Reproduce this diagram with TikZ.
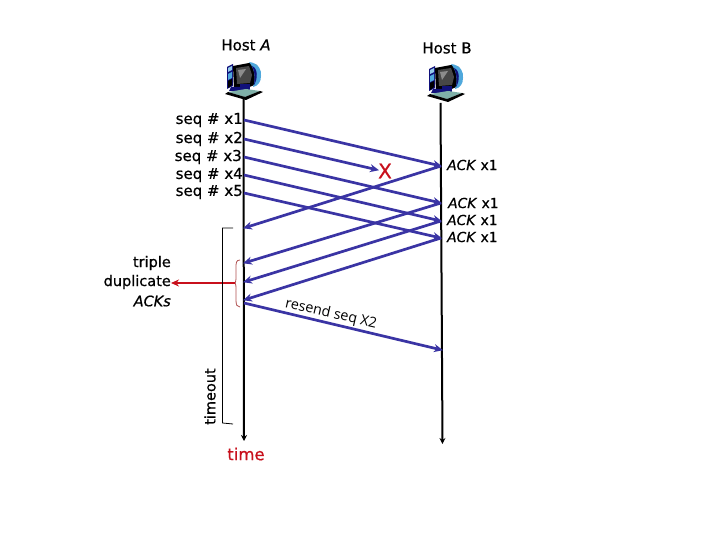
\documentclass[tikz,border=0pt]{standalone}
\usepackage{fontspec}
\setmainfont[FakeBold=0.6,ItalicFeatures={FakeBold=0.6}]{DejaVu Sans}
\newfontfamily\thinfont{Open Sans}
\usetikzlibrary{arrows.meta,calc}
\definecolor{pktblue}{HTML}{3A34A4}
\definecolor{tred}{HTML}{C8101C}
\definecolor{bracered}{HTML}{B05050}
\definecolor{monblue}{HTML}{4FA8DC}
\definecolor{darkblue}{HTML}{10107A}
\definecolor{keyteal}{HTML}{7FB0A8}
\tikzset{
  lbl/.style={inner sep=0pt,font=\fontsize{14.5}{15}\selectfont,text=black},
  seqlbl/.style={lbl,font=\fontsize{15}{15}\selectfont,anchor=east},
  acklbl/.style={lbl,font=\fontsize{13.8}{15}\selectfont,anchor=west},
  hostlbl/.style={lbl,font=\fontsize{15}{15}\selectfont,anchor=center},
  pkt/.style={draw=pktblue,line width=2.7pt,-{Stealth[length=9pt,width=8pt]},shorten >=-1pt},
  life/.style={draw=black,line width=2pt},
  thinb/.style={draw=black,line width=0.8pt},
  pc/.pic={
    % tower
    \fill[darkblue] (-16,-4) -- (-10,-7) -- (-10,15) -- (-16,18) -- cycle;
    \fill[monblue!60!white] (-15,-3) -- (-11,-5) -- (-11,-1) -- (-15,1) -- cycle;
    \fill[monblue] (-15,3) -- (-11,1) -- (-11,7) -- (-15,9) -- cycle;
    \fill[black] (-15,10) -- (-11,8) -- (-11,14) -- (-15,17) -- cycle;
    % monitor
    \fill[black] (-10,-5) -- (6,-8) -- (14,-6) -- (14,13) -- (4,17) -- (-9,17) -- cycle;
    \fill[monblue] (6,-9) .. controls (16,-8) and (19,0) .. (18,5) .. controls (18,11) and (15,15) .. (10,16) .. controls (13,8) and (12,-2) .. (6,-9) -- cycle;
    \fill[darkblue] (9,-5) .. controls (15,-3) and (15,8) .. (11,14) .. controls (12,6) and (12,1) .. (9,-5) -- cycle;
    \fill[black!72] (-7,-3) -- (6,-5) -- (9,4) -- (7,12) -- (-6,13) -- cycle;
    \fill[black!45] (-5,-1) -- (3,-2) -- (-3,7) -- cycle;
    % stand and base
    \fill[darkblue] (-3,13) rectangle (7,19);
    \fill[darkblue] (-12,16) -- (-3,16) -- (-3,20) -- (-14,20) -- cycle;
    \fill[keyteal] (-15,21) -- (3,18) -- (17,20) -- (2,26) -- cycle;
    \fill[black] (-18,23) -- (-15,21) -- (2,26) -- (17,20) -- (20,21) -- (3,29) -- cycle;
  }
}
\begin{document}
\begin{tikzpicture}[x=1pt,y=-1pt]
\useasboundingbox (0,0) rectangle (720,540);
\fill[white] (0,0) rectangle (720,540);

\node[hostlbl] (hosta) at (246,45) {Host \textit{A}};
\node[hostlbl] (hostb) at (447,48) {Host B};
\pic at (243,71) {pc};
\pic at (445,73) {pc};

% lifelines
\coordinate (a0) at (243.5,97);
\coordinate (aend) at (244,441);
\coordinate (b0) at (440.5,103);
\coordinate (bend) at (442.5,444);
\draw[life,-{Stealth[length=6pt,width=6pt]}] (a0) -- (aend);
\draw[life,-{Stealth[length=6pt,width=6pt]}] (b0) -- (bend);

% send points
\coordinate (s1) at (244,120);
\coordinate (s2) at (244,139);
\coordinate (s3) at (244,157);
\coordinate (s4) at (244,175);
\coordinate (s5) at (244,193);
\coordinate (r1) at (441,166);
\coordinate (r3) at (441,203);
\coordinate (r4) at (441,221);
\coordinate (r5) at (441,238);
\coordinate (lost) at (378,170);
\coordinate (k1) at (244,228);
\coordinate (k3) at (244,263);
\coordinate (k4) at (244,282);
\coordinate (k5) at (244,300);
\coordinate (rs0) at (244,303);
\coordinate (rs1) at (442,350);

\draw[pkt] (s1) -- (r1);
\draw[pkt] (s2) -- (lost);
\draw[pkt] (s3) -- (r3);
\draw[pkt] (s4) -- (r4);
\draw[pkt] (s5) -- (r5);
\draw[pkt] (r1) -- (k1);
\draw[pkt] (r3) -- (k3);
\draw[pkt] (r4) -- (k4);
\draw[pkt] (r5) -- (k5);
\draw[pkt] (rs0) -- (rs1);

% sequence labels
\node[seqlbl] (q1) at (243,120) {seq \# x1};
\node[seqlbl] (q2) at (243,139) {seq \# x2};
\node[seqlbl] (q3) at (242,157) {seq \# x3};
\node[seqlbl] (q4) at (243,175) {seq \# x4};
\node[seqlbl] (q5) at (243,192) {seq \# x5};

\node[inner sep=0pt,text=tred,font=\fontsize{20}{24}\selectfont] (xmark) at (385,171) {X};

\node[acklbl] (a1) at (447,165) {\textit{ACK} x1};
\node[acklbl] (a3) at (448,203) {\textit{ACK} x1};
\node[acklbl] (a4) at (447,220) {\textit{ACK} x1};
\node[acklbl] (a5) at (447,237) {\textit{ACK} x1};

% triple duplicate
\node[lbl,anchor=east] (t1) at (171,263) {triple};
\node[lbl,anchor=east] (t2) at (171,282) {duplicate};
\node[lbl,anchor=east] (t3) at (171,301) {\textit{ACKs}};

% brace
\coordinate (brtop) at (240,260);
\coordinate (brbot) at (240,307);
\coordinate (brmid) at (235,283);
\draw[draw=bracered,line width=0.8pt] (brtop) .. controls (236,260) and (236,263) .. (236,268) -- (236,279) .. controls (236,282) and (235,283) .. (brmid) .. controls (235,283) and (236,284) .. (236,288) -- (236,300) .. controls (236,305) and (237,307) .. (brbot);
\draw[draw=tred,line width=1.8pt,-{Stealth[length=8pt,width=7pt]}] (brmid) -- (171,283);

% timeout bracket
\coordinate (to1) at (233,228);
\coordinate (to2) at (222.5,228);
\coordinate (to3) at (222.5,423);
\coordinate (to4) at (233,424);
\draw[thinb] (to1) -- (to2) -- (to3) -- (to4);
\node[lbl,rotate=90,anchor=west] (timeout) at (210,425) {timeout};

\node[inner sep=0pt,text=tred,font=\fontsize{16.5}{17}\selectfont] (timelbl) at (246,454) {time};
\node[inner sep=0pt,rotate=-13,text=black,anchor=center,font=\fontsize{14.3}{15}\selectfont\thinfont] (resend) at (331,314) {resend seq X2};
\end{tikzpicture}
\end{document}
